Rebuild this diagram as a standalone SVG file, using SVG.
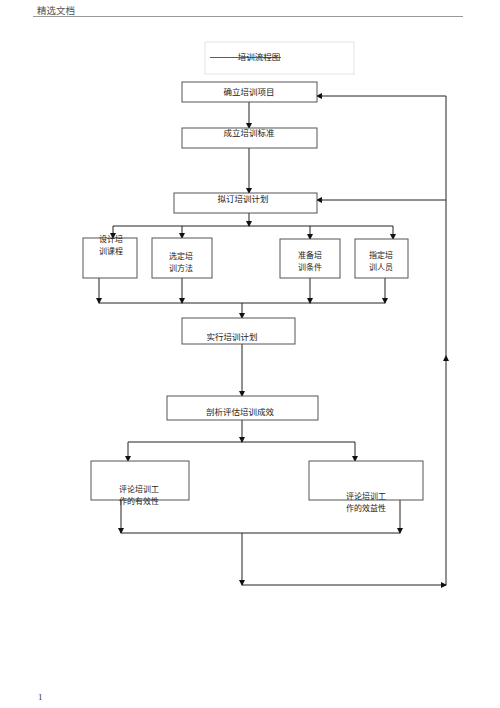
<svg xmlns="http://www.w3.org/2000/svg" width="500" height="708" viewBox="0 0 500 708">
<defs>
<marker id="ah" markerWidth="6" markerHeight="6" refX="5" refY="3" orient="auto" markerUnits="userSpaceOnUse">
<path d="M0,0 L6,3 L0,6 Z" fill="#111"/>
</marker>
<style>
.box{fill:#fff;stroke:#555;stroke-width:1}
.t{font-family:"Noto Sans CJK SC","Liberation Serif",serif;font-size:8.5px;fill:#222;text-anchor:middle}
.t2{font-family:"Noto Sans CJK SC","Liberation Serif",serif;font-size:8px;fill:#222;text-anchor:middle}
.c{fill:none;stroke:#222;stroke-width:1}
.a{fill:none;stroke:#222;stroke-width:1;marker-end:url(#ah)}
</style>
</defs>
<rect width="500" height="708" fill="#fff"/>
<g id="header">
<text x="37" y="14" style="font-family:'Noto Sans CJK SC',sans-serif;font-size:9.5px;fill:#555">精选文档</text>
<line x1="33" y1="16.5" x2="463" y2="16.5" stroke="#999" stroke-width="1"/>
</g>
<g id="title">
<rect x="205" y="42" width="149" height="32" fill="none" stroke="#e4e4e4" stroke-width="1"/>
<text x="259" y="60" class="t">培训流程图</text>
<line x1="210" y1="57.5" x2="281" y2="57.5" stroke="#333" stroke-width="0.8"/>
</g>
<g id="connectors">
<line class="a" x1="249" y1="102" x2="249" y2="128"/>
<line class="a" x1="249" y1="148" x2="249" y2="193"/>
<line class="a" x1="249" y1="213" x2="249" y2="226"/>
<line class="c" x1="113" y1="226" x2="393" y2="226"/>
<line class="a" x1="113" y1="226" x2="113" y2="238"/>
<line class="a" x1="182" y1="226" x2="182" y2="238"/>
<line class="a" x1="310" y1="226" x2="310" y2="239"/>
<line class="a" x1="393" y1="226" x2="393" y2="239"/>
<line class="a" x1="99" y1="278" x2="99" y2="303"/>
<line class="a" x1="182" y1="278" x2="182" y2="303"/>
<line class="a" x1="310" y1="278" x2="310" y2="303"/>
<line class="a" x1="385" y1="278" x2="385" y2="303"/>
<line class="c" x1="99" y1="303" x2="385" y2="303"/>
<line class="a" x1="242" y1="303" x2="242" y2="318"/>
<line class="a" x1="242" y1="344" x2="242" y2="396"/>
<line class="a" x1="242" y1="420" x2="242" y2="442"/>
<line class="c" x1="128" y1="442" x2="355" y2="442"/>
<line class="a" x1="128" y1="442" x2="128" y2="461"/>
<line class="a" x1="355" y1="442" x2="355" y2="461"/>
<line class="a" x1="121" y1="500" x2="121" y2="533"/>
<line class="a" x1="400" y1="500" x2="400" y2="533"/>
<line class="c" x1="121" y1="533" x2="400" y2="533"/>
<line class="a" x1="242" y1="533" x2="242" y2="585"/>
<line class="a" x1="242" y1="585" x2="446" y2="585"/>
<line class="a" x1="446" y1="585" x2="446" y2="356"/>
<line class="c" x1="446" y1="358" x2="446" y2="96"/>
<line class="a" x1="446" y1="96" x2="317" y2="96"/>
<line class="a" x1="446" y1="200" x2="317" y2="200"/>
</g>
<g id="n1"><rect class="box" x="182" y="82" width="135" height="20"/><text class="t" x="249" y="94.5">确立培训项目</text></g>
<g id="n2"><rect class="box" x="182" y="128" width="135" height="20"/><text class="t" x="249" y="136">成立培训标准</text></g>
<g id="n3"><rect class="box" x="174" y="193" width="143" height="20"/><text class="t" x="243" y="202">拟订培训计划</text></g>
<g id="n4"><rect class="box" x="83" y="238" width="54" height="40"/><text class="t2" x="111" y="242">设计培</text><text class="t2" x="111" y="254">训课程</text></g>
<g id="n5"><rect class="box" x="152" y="238" width="60" height="40"/><text class="t2" x="181" y="259">选定培</text><text class="t2" x="181" y="271">训方法</text></g>
<g id="n6"><rect class="box" x="280" y="239" width="60" height="39"/><text class="t2" x="310" y="258">准备培</text><text class="t2" x="310" y="270">训条件</text></g>
<g id="n7"><rect class="box" x="355" y="239" width="53" height="39"/><text class="t2" x="381" y="258">指定培</text><text class="t2" x="381" y="270">训人员</text></g>
<g id="n8"><rect class="box" x="182" y="318" width="113" height="26"/><text class="t" x="232" y="340">实行培训计划</text></g>
<g id="n9"><rect class="box" x="167" y="396" width="151" height="24"/><text class="t" x="240" y="415">剖析评估培训成效</text></g>
<g id="n10"><rect class="box" x="91" y="461" width="98" height="39"/><text class="t2" x="139" y="492">评论培训工</text><text class="t2" x="139" y="504">作的有效性</text></g>
<g id="n11"><rect class="box" x="309" y="461" width="114" height="39"/><text class="t2" x="366" y="499">评论培训工</text><text class="t2" x="366" y="511">作的效益性</text></g>
<text x="38" y="700" style="font-family:'Liberation Serif',serif;font-size:9px;fill:#333">1</text>
</svg>
